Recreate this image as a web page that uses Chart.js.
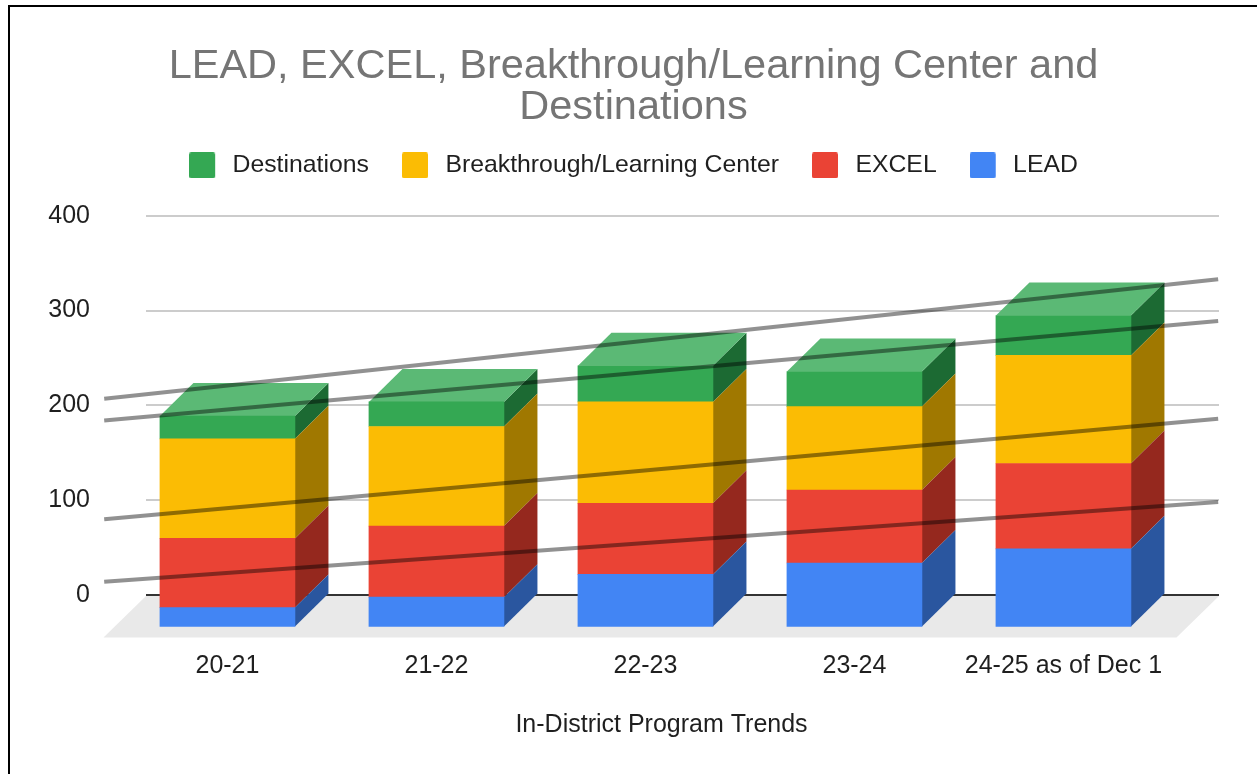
<!DOCTYPE html>
<html>
<head>
<meta charset="utf-8">
<title>In-District Program Trends</title>
<style>
    html, body { margin: 0; padding: 0; background: #ffffff; overflow: hidden; }
    #chart { position: absolute; left: 0; top: 0; }
    #frame { position: absolute; left: 8px; top: 5px; right: 0; bottom: 0; border-top: 2px solid #000; border-left: 2px solid #000; pointer-events: none; }
</style>
<script src="https://cdn.jsdelivr.net/npm/chart.js@4"></script>
</head>
<body>
<canvas id="chart" width="1257" height="774"></canvas>
<div id="frame"></div>
<script>
(function () {
    "use strict";

    var categories = ["20-21", "21-22", "22-23", "23-24", "24-25 as of Dec 1"];
    var lead = [21, 32, 56, 68, 83];
    var excel = [73, 75, 75, 77, 90];
    var learningCenter = [105, 105, 107, 88, 114];
    var destinations = [24, 26, 38, 37, 42];

    // Trendlines, value at the start and at the end of each line
    var trendX = [-0.75, 4.58];
    var trendDestinations = [207, 333];
    var trendLearningCenter = [184, 289];
    var trendExcel = [80, 186];
    var trendLead = [14, 98];

    var yTicks = [0, 100, 200, 300, 400];
    var chartTitle = ["LEAD, EXCEL, Breakthrough/Learning Center and", "Destinations"];
    var axisTitle = "In-District Program Trends";

    var fontFamily = "'Liberation Sans', Arial, sans-serif";
    var textColor = "#1f1f1f";

    // Bottom to top, sideColor and topColor are the shaded 3D faces
    var series = [
        { label: "LEAD", values: lead, color: "#4285f4", sideColor: "#2a569f" },
        { label: "EXCEL", values: excel, color: "#ea4335", sideColor: "#95281e" },
        { label: "Breakthrough/Learning Center", values: learningCenter, color: "#fbbc04", sideColor: "#a07800" },
        { label: "Destinations", values: destinations, color: "#34a853", sideColor: "#1c6a33", topColor: "#5bb975" }
    ];

    var trends = [trendDestinations, trendLearningCenter, trendExcel, trendLead];

    // Front faces sit down and left of the back wall where the axes are
    var frontX = -33.5;
    var frontY = 32.5;
    var depthX = 33.5;
    var depthY = 33;
    var floorDepth = 42.5;
    var legendGap = 28;

    function polygon(ctx, color, points) {
        ctx.fillStyle = color;
        ctx.beginPath();
        points.forEach(function (p, i) {
            if (i === 0) {
                ctx.moveTo(p[0], p[1]);
            } else {
                ctx.lineTo(p[0], p[1]);
            }
        });
        ctx.closePath();
        ctx.fill();
    }

    // Legend swatch, wider than the square to leave the gap before the text
    function swatch(color) {
        var c = document.createElement("canvas");
        c.width = 31;
        c.height = 26;
        var g = c.getContext("2d");
        g.fillStyle = color;
        g.beginPath();
        g.roundRect(0, 0, 26, 26, 2);
        g.fill();
        return c;
    }

    var bars3d = {
        id: "bars3d",
        beforeLayout: function (chart) {
            // Extra room between the legend and the plot
            var legend = chart.legend;
            if (!legend.baseFit) {
                legend.baseFit = legend.fit;
                legend.fit = function () {
                    this.baseFit();
                    this.height += legendGap;
                };
            }
        },
        beforeDatasetsDraw: function (chart) {
            // Floor, starts just under the zero line
            var area = chart.chartArea;
            var y0 = chart.scales.y.getPixelForValue(0);
            polygon(chart.ctx, "#e9e9e9", [
                [area.left, y0 + 1],
                [area.right, y0 + 1],
                [area.right - floorDepth, y0 + floorDepth],
                [area.left - floorDepth, y0 + floorDepth]
            ]);
        },
        beforeDatasetDraw: function (chart, args) {
            if (args.meta.type !== "bar") {
                return;
            }
            var ctx = chart.ctx;
            var s = series[args.index];
            ctx.save();
            ctx.translate(frontX, frontY);
            args.meta.data.forEach(function (bar) {
                var right = bar.x + bar.width / 2;
                var left = bar.x - bar.width / 2;
                polygon(ctx, s.sideColor, [
                    [right, bar.y],
                    [right + depthX, bar.y - depthY],
                    [right + depthX, bar.base - depthY],
                    [right, bar.base]
                ]);
                if (s.topColor) {
                    polygon(ctx, s.topColor, [
                        [left, bar.y],
                        [left + depthX, bar.y - depthY],
                        [right + depthX, bar.y - depthY],
                        [right, bar.y]
                    ]);
                }
            });
        },
        afterDatasetDraw: function (chart, args) {
            if (args.meta.type === "bar") {
                chart.ctx.restore();
            }
        },
        afterDraw: function (chart) {
            // Axis title is centered under the front of the floor, not the scale
            var ctx = chart.ctx;
            ctx.save();
            ctx.font = "25px " + fontFamily;
            ctx.fillStyle = textColor;
            ctx.textAlign = "center";
            ctx.textBaseline = "middle";
            ctx.fillText(axisTitle, (chart.chartArea.left + chart.chartArea.right) / 2 - 21, 725);
            ctx.restore();
        }
    };

    var datasets = series.map(function (s) {
        return {
            type: "bar",
            label: s.label,
            data: categories.map(function (c, i) {
                return { x: i, y: s.values[i] };
            }),
            backgroundColor: s.color,
            barThickness: 135,
            clip: false
        };
    });

    trends.forEach(function (t, n) {
        datasets.push({
            type: "line",
            label: "Trend " + (n + 1),
            stack: "trend" + n,
            order: -1,
            data: t.map(function (v, i) {
                return { x: trendX[i], y: v };
            }),
            borderColor: "rgba(0, 0, 0, 0.43)",
            borderWidth: 4,
            pointRadius: 0,
            tension: 0,
            clip: false
        });
    });

    new Chart(document.getElementById("chart"), {
        data: { datasets: datasets },
        plugins: [bars3d],
        options: {
            responsive: false,
            animation: false,
            layout: { padding: { left: 48, right: 38, top: 0, bottom: 0 } },
            plugins: {
                tooltip: { enabled: false },
                title: {
                    display: true,
                    text: chartTitle,
                    color: "#757575",
                    font: { family: fontFamily, size: 41.5, weight: "normal", lineHeight: 0.988 },
                    padding: { top: 46, bottom: -8 }
                },
                legend: {
                    display: true,
                    position: "top",
                    labels: {
                        usePointStyle: true,
                        pointStyleWidth: 31,
                        padding: 33,
                        color: textColor,
                        font: { family: fontFamily, size: 24.8 },
                        generateLabels: function () {
                            return series.slice().reverse().map(function (s) {
                                return {
                                    text: s.label,
                                    fontColor: textColor,
                                    pointStyle: swatch(s.color),
                                    lineWidth: 0
                                };
                            });
                        }
                    }
                }
            },
            scales: {
                x: {
                    type: "linear",
                    min: -0.55,
                    max: 4.584,
                    offset: false,
                    stacked: true,
                    grid: { display: false },
                    border: { display: false },
                    afterBuildTicks: function (scale) {
                        scale.ticks = categories.map(function (c, i) {
                            return { value: i };
                        });
                    },
                    afterFit: function (scale) {
                        scale.height = 179;
                    },
                    ticks: {
                        autoSkip: false,
                        maxRotation: 0,
                        minRotation: 0,
                        labelOffset: -33.5,
                        padding: 48,
                        color: textColor,
                        font: { family: fontFamily, size: 25 },
                        callback: function (v) {
                            return categories[v];
                        }
                    }
                },
                y: {
                    min: yTicks[0],
                    max: yTicks[yTicks.length - 1],
                    stacked: true,
                    border: { display: false },
                    grid: {
                        drawTicks: false,
                        color: function (ctx) {
                            return ctx.tick.value === 0 ? "#333333" : "#cccccc";
                        },
                        lineWidth: 2
                    },
                    afterBuildTicks: function (scale) {
                        scale.ticks = yTicks.map(function (v) {
                            return { value: v };
                        });
                    },
                    afterFit: function (scale) {
                        scale.width = 98;
                    },
                    ticks: {
                        padding: 56,
                        color: textColor,
                        font: { family: fontFamily, size: 25 }
                    }
                }
            }
        }
    });
})();
</script>
</body>
</html>
